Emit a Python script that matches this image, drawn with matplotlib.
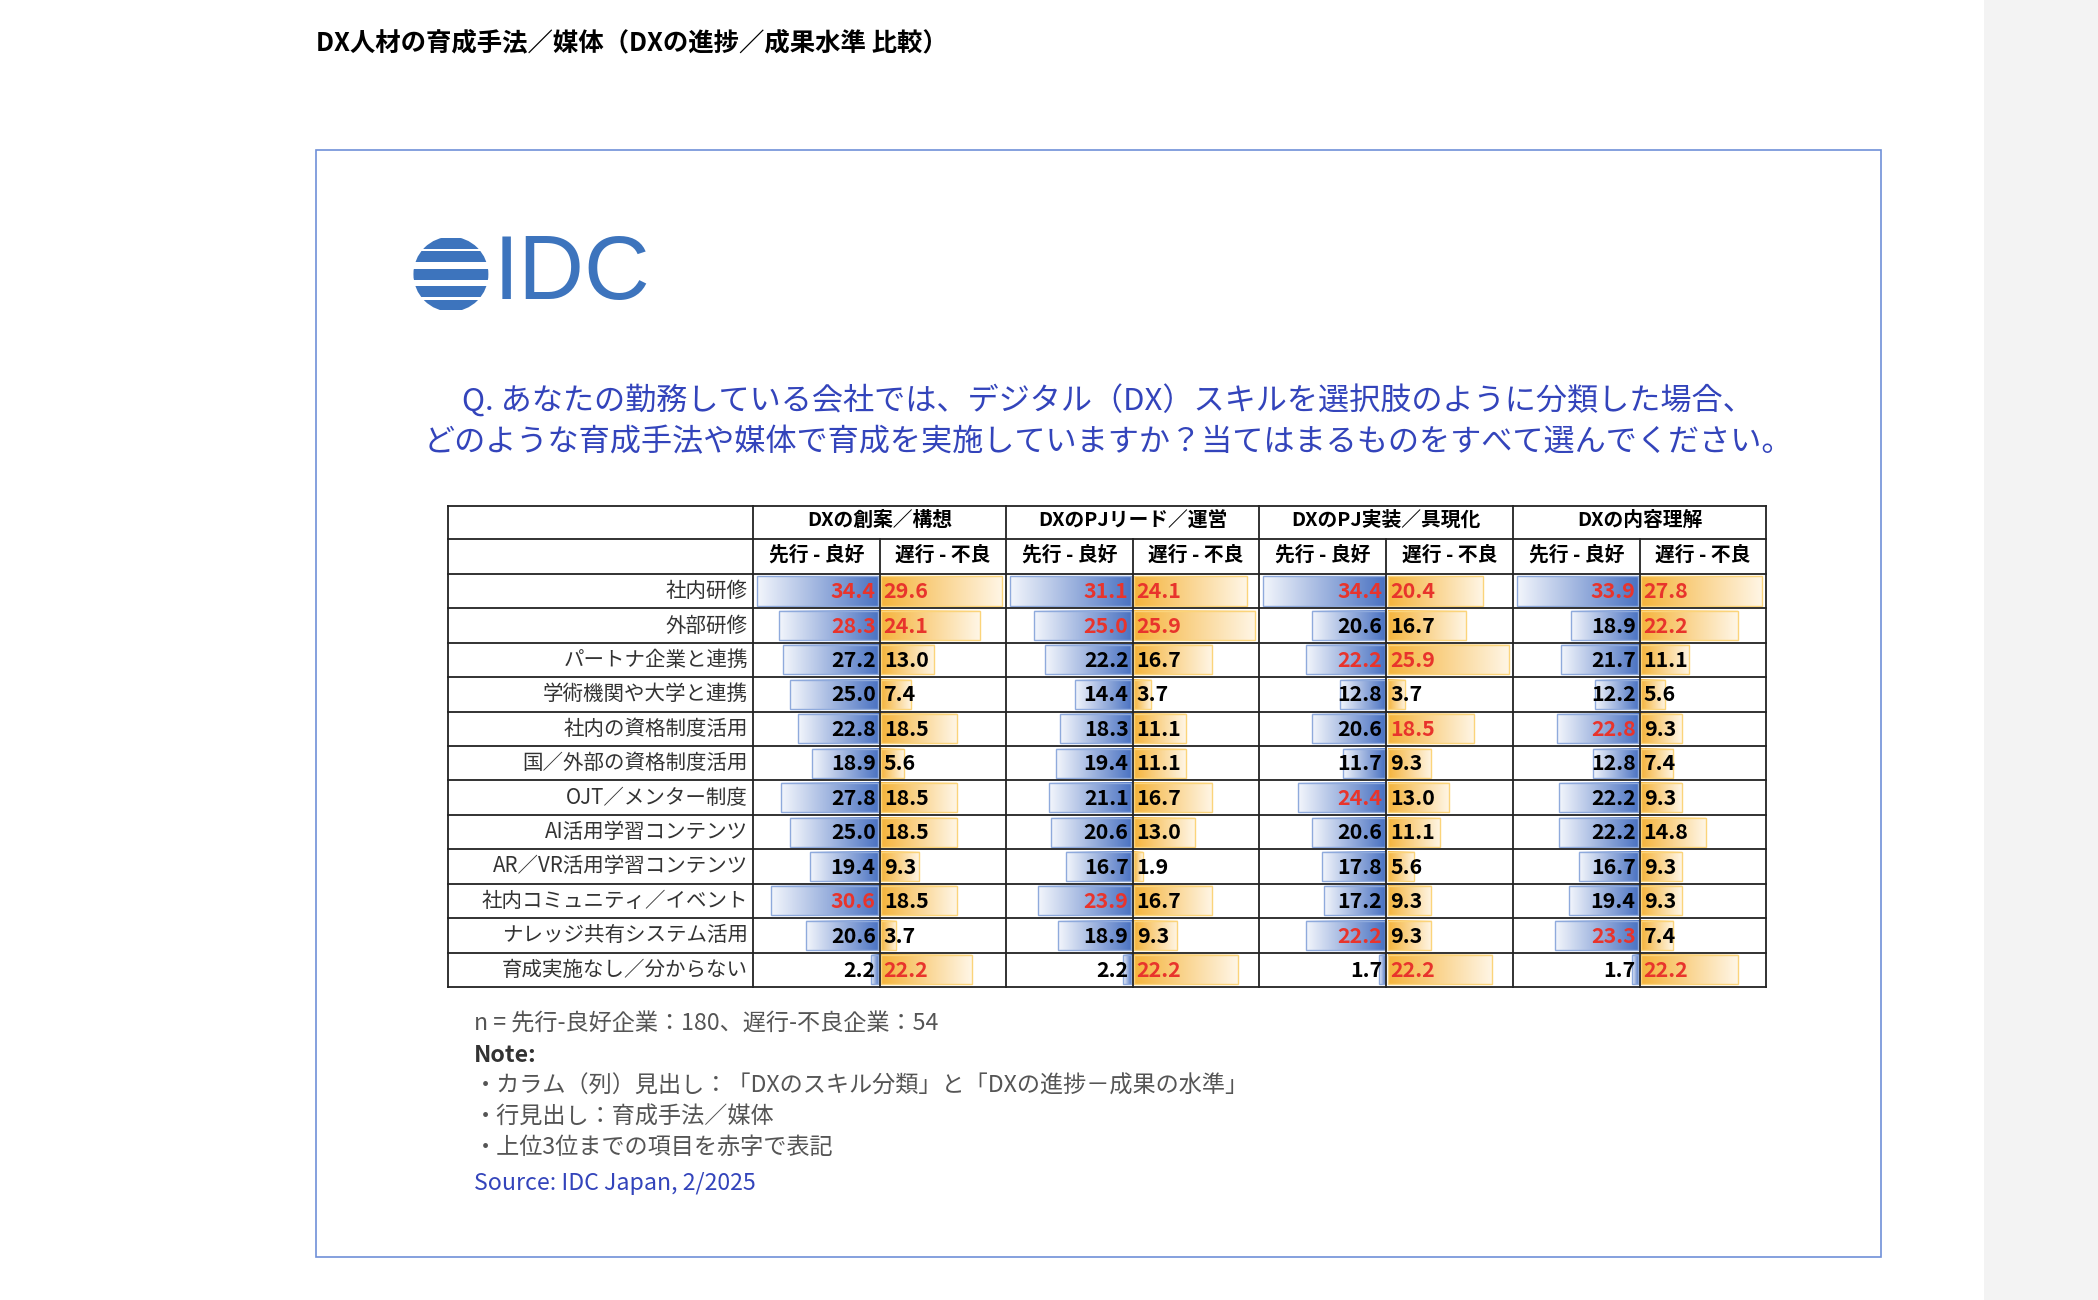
import numpy as np
import matplotlib
matplotlib.use("Agg")
import matplotlib.pyplot as plt
from matplotlib.patches import Rectangle, Circle
from matplotlib.colors import LinearSegmentedColormap

plt.rcParams["font.family"] = ["Noto Sans CJK JP", "DejaVu Sans"]

title = "DX人材の育成手法／媒体（DXの進捗／成果水準 比較）"
question = ["Q. あなたの勤務している会社では、デジタル（DX）スキルを選択肢のように分類した場合、",
            "どのような育成手法や媒体で育成を実施していますか？当てはまるものをすべて選んでください。"]
rows = ["社内研修", "外部研修", "パートナ企業と連携", "学術機関や大学と連携", "社内の資格制度活用",
        "国／外部の資格制度活用", "OJT／メンター制度", "AI活用学習コンテンツ", "AR／VR活用学習コンテンツ",
        "社内コミュニティ／イベント", "ナレッジ共有システム活用", "育成実施なし／分からない"]
groups = ["DXの創案／構想", "DXのPJリード／運営", "DXのPJ実装／具現化", "DXの内容理解"]
subs = ["先行 - 良好", "遅行 - 不良"]

g1_lead = [34.4, 28.3, 27.2, 25.0, 22.8, 18.9, 27.8, 25.0, 19.4, 30.6, 20.6, 2.2]
g1_lag = [29.6, 24.1, 13.0, 7.4, 18.5, 5.6, 18.5, 18.5, 9.3, 18.5, 3.7, 22.2]
g2_lead = [31.1, 25.0, 22.2, 14.4, 18.3, 19.4, 21.1, 20.6, 16.7, 23.9, 18.9, 2.2]
g2_lag = [24.1, 25.9, 16.7, 3.7, 11.1, 11.1, 16.7, 13.0, 1.9, 16.7, 9.3, 22.2]
g3_lead = [34.4, 20.6, 22.2, 12.8, 20.6, 11.7, 24.4, 20.6, 17.8, 17.2, 22.2, 1.7]
g3_lag = [20.4, 16.7, 25.9, 3.7, 18.5, 9.3, 13.0, 11.1, 5.6, 9.3, 9.3, 22.2]
g4_lead = [33.9, 18.9, 21.7, 12.2, 22.8, 12.8, 22.2, 22.2, 16.7, 19.4, 23.3, 1.7]
g4_lag = [27.8, 22.2, 11.1, 5.6, 9.3, 7.4, 9.3, 14.8, 9.3, 9.3, 7.4, 22.2]
columns = [g1_lead, g1_lag, g2_lead, g2_lag, g3_lead, g3_lag, g4_lead, g4_lag]
red_rows = [[0, 1, 9], [0, 1, 11], [0, 1, 9], [0, 1, 11],
            [0, 2, 6, 10], [0, 2, 4, 11], [0, 4, 10], [0, 1, 11]]

notes = ["n = 先行-良好企業：180、遅行-不良企業：54", "Note:",
         "・カラム（列）見出し：「DXのスキル分類」と「DXの進捗－成果の水準」",
         "・行見出し：育成手法／媒体", "・上位3位までの項目を赤字で表記"]
source = "Source: IDC Japan, 2/2025"

W, H = 1568, 972
k = 2098 / W
fig = plt.figure(figsize=(20.98, 13.0), dpi=100)
ax = fig.add_axes([0, 0, 1, 1])
ax.axis("off")

def fs(px):
    return px * k * 0.72

ax.add_patch(Rectangle((1483, 0), W - 1483, H, color="#f3f3f3", lw=0))
ax.text(236, 32, title, fontsize=fs(19), fontweight="bold", va="center", ha="left")
ax.add_patch(Rectangle((236, 112), 1170, 828, fill=False, ec="#7090d8", lw=1.2))

logo_c = "#3d74bd"
circ = Circle((337, 205), 28, transform=ax.transData)
for yy, x0, x1 in [(182, 318, 356), (192, 310, 362), (205, 308, 366), (218, 310, 362), (228, 318, 356)]:
    r = Rectangle((x0 - 6, yy - 4), x1 - x0 + 12, 8, color=logo_c, lw=0)
    ax.add_patch(r)
    r.set_clip_path(circ)
ax.text(369, 206, "IDC", fontsize=fs(68), color=logo_c, family="Liberation Sans",
        va="center", ha="left")

qc = "#3344bb"
ax.text(828, 300, question[0], fontsize=fs(23.3), color=qc, ha="center", va="center")
ax.text(828, 331, question[1], fontsize=fs(23.3), color=qc, ha="center", va="center")

tx0, tx1 = 335, 1320
lab_w = 563
gx = [563, 752, 941, 1131, 1320]
ry0, ry1 = 429, 738
rh = (ry1 - ry0) / len(rows)

blue_cm = LinearSegmentedColormap.from_list("b", ["#f3f6fc", "#4a72c2"])
orng_cm = LinearSegmentedColormap.from_list("o", ["#f5b43c", "#fff6e6"])
grad = np.linspace(0, 1, 256).reshape(1, -1)

for ci, col in enumerate(columns):
    g = ci // 2
    mid = (gx[g] + gx[g + 1]) / 2
    cx0, cx1 = (gx[g], mid) if ci % 2 == 0 else (mid, gx[g + 1])
    cw = cx1 - cx0 - 4
    mx = max(col)
    for ri, v in enumerate(col):
        y0 = ry0 + ri * rh + 2
        y1 = ry0 + (ri + 1) * rh - 2
        L = v / mx * cw
        colr = "#e8342c" if ri in red_rows[ci] else "black"
        if ci % 2 == 0:
            bx1 = cx1 - 1
            bx0 = bx1 - L
            ax.imshow(grad, cmap=blue_cm, extent=(bx0, bx1, y1, y0), aspect="auto", zorder=2)
            ax.add_patch(Rectangle((bx0, y0), L, y1 - y0, fill=False, ec="#8faadc", lw=1, zorder=3))
            ax.text(cx1 - 3, (y0 + y1) / 2 + 0.5, f"{v:.1f}", fontsize=fs(16), fontweight="bold",
                    ha="right", va="center", zorder=4, color=colr)
        else:
            bx0 = cx0 + 1
            ax.imshow(grad, cmap=orng_cm, extent=(bx0, bx0 + L, y1, y0), aspect="auto", zorder=2)
            ax.add_patch(Rectangle((bx0, y0), L, y1 - y0, fill=False, ec="#fbd47a", lw=1, zorder=3))
            ax.text(cx0 + 3, (y0 + y1) / 2 + 0.5, f"{v:.1f}", fontsize=fs(16), fontweight="bold",
                    ha="left", va="center", zorder=4, color=colr)

lc = "#222222"
for y in [378, 403, 429] + [ry0 + i * rh for i in range(1, len(rows) + 1)]:
    ax.plot([tx0, tx1], [y, y], color=lc, lw=1.3, zorder=5)
for x in [tx0] + gx:
    ax.plot([x, x], [378, ry1], color=lc, lw=1.3, zorder=5)
for g in range(4):
    mid = (gx[g] + gx[g + 1]) / 2
    ax.plot([mid, mid], [403, ry1], color=lc, lw=1.3, zorder=5)
    ax.text(mid, 389, groups[g], fontsize=fs(14.8), fontweight="bold", ha="center", va="center")
    ax.text((gx[g] + mid) / 2, 415, subs[0], fontsize=fs(14.8), fontweight="bold", ha="center", va="center")
    ax.text((mid + gx[g + 1]) / 2, 415, subs[1], fontsize=fs(14.8), fontweight="bold", ha="center", va="center")
for ri, r in enumerate(rows):
    ax.text(lab_w - 4, ry0 + (ri + 0.5) * rh, r, fontsize=fs(15.3), color="#333333",
            ha="right", va="center")

ny = [766, 789, 812, 835, 858]
for i, t in enumerate(notes):
    ax.text(354, ny[i], t, fontsize=fs(17.3), color="#555555" if i != 1 else "#333333",
            fontweight="bold" if i == 1 else "normal", ha="left", va="center")
ax.text(354, 885, source, fontsize=fs(17.3), color="#3344bb", ha="left", va="center")

ax.set_xlim(0, W)
ax.set_ylim(H, 0)
fig.savefig("out.png", dpi=100)
